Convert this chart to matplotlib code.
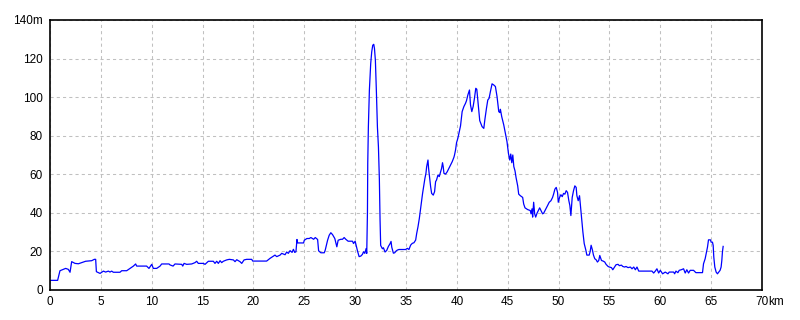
import numpy as np
import matplotlib.pyplot as plt

dist_km = [
    0.0, 0.75, 0.98, 1.54, 1.8, 1.97, 2.13, 2.46, 2.79, 3.11, 3.5, 4.1, 4.36, 4.49,
    4.56, 4.92, 5.25, 5.47, 5.74, 5.9, 6.06, 6.23, 6.88, 7.05, 7.54, 7.87, 8.2, 8.42,
    8.52, 9.5, 9.73, 10.0, 10.16, 10.49, 10.82, 10.98, 11.7, 11.8, 12.1, 12.29, 12.95,
    13.05, 13.18, 13.44, 13.93, 14.26, 14.42, 14.58, 15.08, 15.24, 15.57, 16.06, 16.22,
    16.39, 16.55, 16.72, 16.88, 17.04, 17.37, 17.63, 18.03, 18.19, 18.36, 18.68, 18.85,
    19.08, 19.34, 19.83, 19.93, 21.3, 21.63, 22.12, 22.29, 22.62, 22.78, 23.11, 23.27,
    23.43, 23.6, 23.8, 23.93, 24.06, 24.18, 24.28, 24.35, 24.93, 25.0, 25.26, 25.49,
    25.65, 25.92, 26.08, 26.31, 26.41, 26.63, 26.96, 27.06, 27.29, 27.45, 27.61, 27.78,
    28.0, 28.2, 28.33, 28.59, 28.76, 28.92, 29.08, 29.31, 29.74, 29.84, 30.0, 30.13,
    30.23, 30.39, 30.56, 30.72, 30.82, 30.95, 31.08, 31.14, 31.21, 31.24, 31.3, 31.4,
    31.53, 31.63, 31.73, 31.83, 31.9, 31.99, 32.09, 32.19, 32.29, 32.38, 32.45, 32.51,
    32.68, 32.78, 32.94, 33.1, 33.27, 33.43, 33.53, 33.6, 33.76, 33.89, 34.02, 34.15,
    34.31, 34.97, 35.13, 35.29, 35.46, 35.62, 35.78, 35.95, 36.05, 36.18, 36.31, 36.44,
    36.54, 36.63, 36.76, 36.86, 36.96, 37.03, 37.16, 37.22, 37.32, 37.42, 37.52, 37.68,
    37.81, 37.91, 38.0, 38.14, 38.27, 38.4, 38.5, 38.59, 38.66, 38.73, 38.89, 39.05,
    39.22, 39.38, 39.54, 39.71, 39.77, 39.87, 39.97, 40.1, 40.2, 40.36, 40.52, 40.69,
    40.85, 40.95, 41.08, 41.24, 41.34, 41.47, 41.6, 41.73, 41.86, 41.96, 42.06, 42.16,
    42.25, 42.35, 42.48, 42.65, 42.75, 42.91, 43.04, 43.17, 43.3, 43.46, 43.63, 43.79,
    43.95, 44.12, 44.22, 44.28, 44.41, 44.61, 44.77, 44.93, 45.07, 45.2, 45.3, 45.4,
    45.5, 45.6, 45.72, 45.82, 45.98, 46.08, 46.24, 46.47, 46.57, 46.7, 46.96, 47.22,
    47.29, 47.39, 47.45, 47.55, 47.65, 47.75, 47.88, 48.01, 48.14, 48.27, 48.43, 48.53,
    48.76, 48.92, 49.08, 49.25, 49.41, 49.51, 49.64, 49.77, 49.9, 49.97, 50.1, 50.23,
    50.36, 50.49, 50.62, 50.75, 50.88, 51.01, 51.11, 51.21, 51.34, 51.47, 51.6, 51.73,
    51.8, 51.93, 52.06, 52.12, 52.25, 52.39, 52.52, 52.68, 52.78, 53.01, 53.1, 53.2,
    53.33, 53.43, 53.56, 53.69, 53.82, 53.95, 54.05, 54.22, 54.38, 54.54, 54.67, 54.87,
    55.0, 55.2, 55.33, 55.46, 55.65, 55.85, 55.98, 56.18, 56.31, 56.5, 56.63, 56.83,
    57.06, 57.22, 57.39, 57.55, 57.71, 57.88, 59.18, 59.35, 59.51, 59.67, 59.84, 60.0,
    60.23, 60.49, 60.75, 60.88, 61.31, 61.41, 61.54, 61.73, 61.86, 62.06, 62.29, 62.45,
    62.61, 62.78, 62.94, 63.27, 63.5, 64.15, 64.25, 64.41, 64.51, 64.64, 64.74, 64.93,
    65.0, 65.13, 65.2, 65.26, 65.36, 65.49, 65.62, 65.75, 65.88, 65.98, 66.05, 66.11,
    66.18,
]
alt_m = [
    5.0, 5.0, 10.0, 11.2, 10.7, 9.2, 14.7, 13.8, 13.6, 14.2, 14.9, 15.2, 15.9, 15.9,
    9.5, 8.6, 9.8, 9.3, 9.8, 9.3, 9.8, 9.2, 9.2, 10.0, 10.0, 11.2, 12.4, 13.5,
    12.4, 12.4, 11.2, 13.3, 11.2, 11.2, 12.4, 13.5, 13.5, 13.0, 12.4, 13.5, 13.3,
    12.4, 13.8, 13.3, 13.5, 14.2, 14.9, 13.8, 13.8, 13.3, 14.9, 14.9, 13.8,
    14.9, 13.8, 15.2, 14.2, 14.9, 15.6, 15.9, 15.6, 14.7, 15.7, 14.7, 13.8,
    15.6, 15.9, 15.9, 15.0, 15.0, 16.4, 18.1, 17.3, 18.1, 19.0, 18.3, 19.7,
    19.0, 20.4, 19.5, 21.1, 19.5, 19.8, 26.2, 24.4, 24.4, 25.8, 26.7, 26.7,
    27.2, 26.3, 27.2, 26.2, 20.3, 19.3, 19.3, 20.7, 25.8, 28.4, 29.7, 28.7,
    26.7, 22.4, 25.8, 26.3, 26.3, 27.2, 26.3, 25.3, 25.3, 24.1, 25.3, 22.4,
    20.3, 17.3, 17.6, 18.5, 19.8, 19.0, 21.5, 19.0, 40.3, 65.8, 84.5, 103.6,
    117.4, 123.5, 126.9, 127.4, 125.2, 119.1, 102.7, 84.5, 74.2, 57.7, 36.1, 23.1,
    21.4, 21.9, 19.7, 20.5, 22.6, 24.0, 25.2, 22.2, 19.1, 19.3, 20.2, 20.7,
    21.0, 21.0, 21.6, 21.0, 23.3, 24.2, 24.5, 25.9, 29.3, 32.8, 37.1, 42.3,
    46.6, 50.1, 54.4, 57.9, 60.5, 63.9, 67.4, 63.1, 58.4, 53.6, 50.1, 49.2,
    51.0, 56.2, 57.0, 59.6, 58.8, 61.3, 63.1, 66.0, 63.9, 60.5, 60.1, 61.3,
    63.1, 64.8, 66.5, 68.8, 70.0, 72.6, 76.4, 78.7, 81.2, 85.1, 92.5, 95.1,
    96.8, 98.2, 101.1, 103.7, 96.0, 92.5, 95.1, 99.4, 104.6, 104.1, 98.5, 92.5,
    87.8, 86.4, 84.7, 83.8, 88.2, 94.2, 98.5, 99.4, 102.9, 106.9, 106.3, 105.5,
    100.3, 92.5, 92.0, 93.7, 89.9, 85.6, 81.2, 76.9, 70.9, 67.4, 70.5, 66.0,
    70.0, 64.0, 61.7, 58.3, 54.0, 49.7, 48.9, 48.0, 44.6, 42.6, 41.7, 41.2,
    39.5, 42.1, 37.8, 45.5, 39.5, 37.8, 39.8, 41.2, 42.6, 41.2, 39.5, 39.8,
    42.1, 43.8, 45.5, 46.3, 48.0, 49.7, 52.3, 53.2, 50.6, 45.5, 48.0, 49.4,
    48.4, 50.1, 49.7, 51.5, 50.6, 46.3, 43.8, 38.6, 48.0, 51.5, 54.0, 53.2,
    48.9, 46.3, 48.9, 45.5, 37.8, 30.1, 24.1, 20.7, 18.1, 18.1, 19.8, 23.2,
    20.7, 18.1, 16.2, 15.7, 14.5, 15.3, 17.9, 15.3, 15.0, 14.5, 13.3, 12.2,
    11.9, 11.6, 10.5, 11.6, 13.1, 13.3, 12.6, 12.9, 12.2, 11.9, 12.2, 11.6,
    11.9, 11.0, 11.9, 10.5, 11.9, 9.8, 9.8, 8.8, 9.8, 11.0, 8.8, 10.2,
    8.4, 9.3, 8.4, 9.3, 9.3, 8.4, 9.8, 9.0, 10.2, 10.5, 11.0, 8.8,
    10.5, 8.8, 10.2, 10.2, 9.0, 9.0, 13.6, 16.2, 18.8, 22.2, 26.0, 26.0,
    24.8, 24.8, 23.1, 17.1, 11.9, 9.3, 8.4, 9.3, 10.2, 11.9, 15.3, 19.7,
    22.6,
]

x_ticks = [0, 5, 10, 15, 20, 25, 30, 35, 40, 45, 50, 55, 60, 65, 70]
x_labels = ['0', '5', '10', '15', '20', '25', '30', '35', '40', '45', '50', '55', '60', '65', '70']
y_ticks = [0, 20, 40, 60, 80, 100, 120, 140]
y_labels = ['0', '20', '40', '60', '80', '100', '120', '140m']

plt.rcParams['font.family'] = ['Liberation Sans', 'DejaVu Sans']

fig = plt.figure(figsize=(8, 3.2), dpi=100)
ax = fig.add_axes([50 / 800, 30 / 320, 712 / 800, 270 / 320])

ax.plot(dist_km, alt_m, color='#0000ff', linewidth=0.9)

ax.set_xlim(0, 70)
ax.set_ylim(0, 140)
ax.set_xticks(x_ticks)
ax.set_xticklabels(x_labels)
ax.set_yticks(y_ticks)
ax.set_yticklabels(y_labels)
ax.tick_params(length=0, labelsize=8.5, colors='black')
ax.tick_params(axis='y', pad=5)
ax.tick_params(axis='x', pad=4)

# unidad "km" pegada al ultimo numero del eje x
ax.annotate('km', xy=(70, 0), xycoords=('data', 'axes fraction'),
            xytext=(4.3, -4), textcoords='offset points',
            ha='left', va='top', fontsize=8.5)

ax.grid(True, color='#c0c0c0', linestyle=(0, (3, 3)), linewidth=0.75)
ax.set_axisbelow(True)
for s in ax.spines.values():
    s.set_color('black')
    s.set_linewidth(1.2)

fig.savefig('out.png', dpi=100)
